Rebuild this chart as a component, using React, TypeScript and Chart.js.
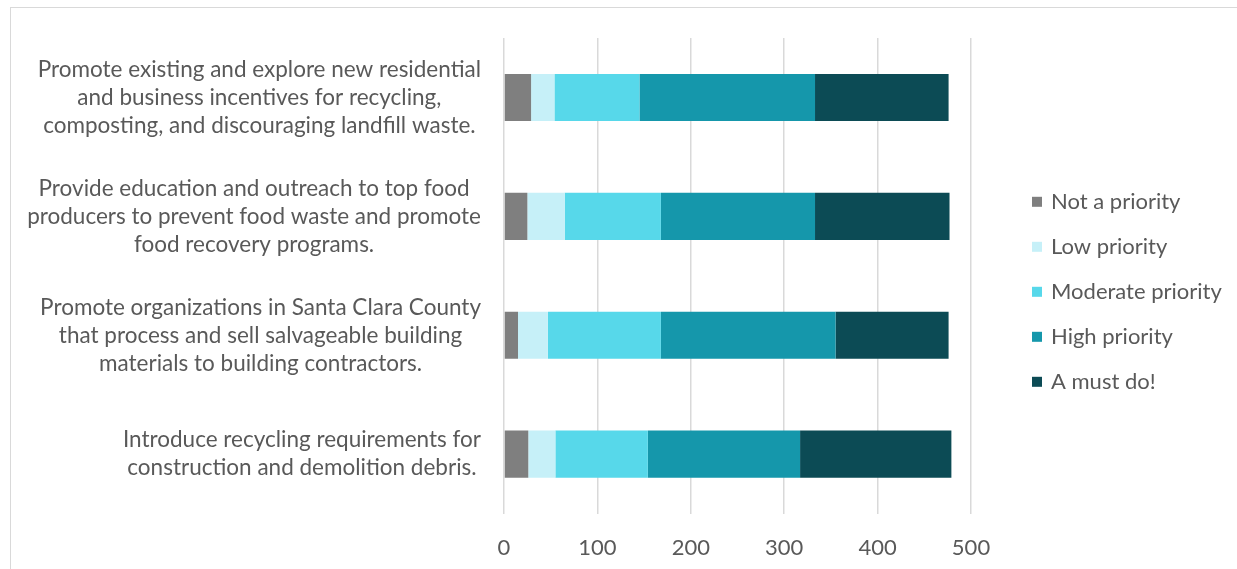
import React, { useEffect, useRef } from "react";
import { Chart, registerables } from "chart.js";

Chart.register(...registerables);

const categories: string[][] = [
  ["Promote existing and explore new residential", "and business incentives for recycling,", "composting, and discouraging landfill waste."],
  ["Provide education and outreach to top food", "producers to prevent food waste and promote", "food recovery programs."],
  ["Promote organizations in Santa Clara County", "that process and sell salvageable building", "materials to building contractors."],
  ["Introduce recycling requirements for", "construction and demolition debris."],
];
const seriesNames = ["Not a priority", "Low priority", "Moderate priority", "High priority", "A must do!"];
const notPriority = [29, 25, 15, 26];
const lowPriority = [25, 40, 32, 29];
const moderatePriority = [91, 103, 121, 99];
const highPriority = [188, 165, 187, 163];
const mustDo = [143, 144, 121, 162];
const xTickValues = [0, 100, 200, 300, 400, 500];
const colors = ["#7f7f7f", "#c6f0f8", "#57d8ea", "#1597ab", "#0c4b55"];

const FONT = "Lato, 'Open Sans', sans-serif";
const FS = 22;
const LABEL_FS = 22.5;
const TEXT = "#595959";
const LINE_H = 28;

const sideTextPlugin = {
  id: "sideText",
  afterDraw(chart: any) {
    const ctx = chart.ctx as CanvasRenderingContext2D;
    const yScale = chart.scales.y;
    const area = chart.chartArea;
    ctx.save();
    ctx.font = `${LABEL_FS}px ${FONT}`;
    ctx.fillStyle = TEXT;
    ctx.textAlign = "center";
    ctx.textBaseline = "middle";
    categories.forEach((lines, i) => {
      const cy = yScale.getPixelForValue(i);
      const maxW = Math.max(...lines.map((l) => ctx.measureText(l).width));
      const cx = area.left - 23 - maxW / 2;
      lines.forEach((l, j) => {
        ctx.fillText(l, cx, cy + (j - (lines.length - 1) / 2) * LINE_H);
      });
    });
    // legend
    ctx.font = `${FS}px ${FONT}`;
    const lx = area.right + 61;
    const lcy = (area.top + area.bottom) / 2 + 16;
    const step = 45;
    ctx.textAlign = "left";
    chart.data.datasets.forEach((ds: any, i: number) => {
      const y = lcy + (i - (chart.data.datasets.length - 1) / 2) * step;
      ctx.fillStyle = ds.backgroundColor;
      ctx.fillRect(lx, y - 5, 10, 10);
      ctx.fillStyle = TEXT;
      ctx.fillText(ds.label, lx + 19, y);
    });
    ctx.restore();
  },
};

export default function App() {
  const ref = useRef<HTMLCanvasElement | null>(null);
  useEffect(() => {
    if (!ref.current) return;
    const series = [notPriority, lowPriority, moderatePriority, highPriority, mustDo];
    const chart = new Chart(ref.current, {
      type: "bar",
      data: {
        labels: categories.map((c) => c.join(" ")),
        datasets: series.map((d, i) => ({
          label: seriesNames[i],
          data: d,
          backgroundColor: colors[i],
          borderWidth: 0,
          categoryPercentage: 1,
          barPercentage: 0.396,
        })),
      },
      options: {
        indexAxis: "y",
        animation: false,
        responsive: false,
        maintainAspectRatio: false,
        layout: { padding: { left: 504, right: 266, top: 38, bottom: -13 } },
        plugins: { legend: { display: false }, tooltip: { enabled: false } },
        scales: {
          x: {
            stacked: true,
            min: 0,
            max: 500,
            afterBuildTicks: (axis: any) => {
              axis.ticks = xTickValues.map((v) => ({ value: v }));
            },
            grid: { color: "#d9d9d9", lineWidth: 1.5, drawTicks: false },
            border: { display: false },
            ticks: { color: TEXT, font: { family: FONT, size: FS }, padding: 21 },
          },
          y: { stacked: true, display: false },
        },
      },
      plugins: [sideTextPlugin],
    } as any);
    return () => chart.destroy();
  }, []);
  return (
    <div style={{ position: "fixed", left: 0, top: 0, width: 1237, height: 569, overflow: "hidden", background: "#fff" }}>
      <div style={{ position: "absolute", left: 10, top: 7, width: 1400, height: 700, border: "1px solid #d9d9d9" }} />
      <canvas ref={ref} width={1237} height={569} style={{ position: "absolute", left: 0, top: 0 }} />
    </div>
  );
}
